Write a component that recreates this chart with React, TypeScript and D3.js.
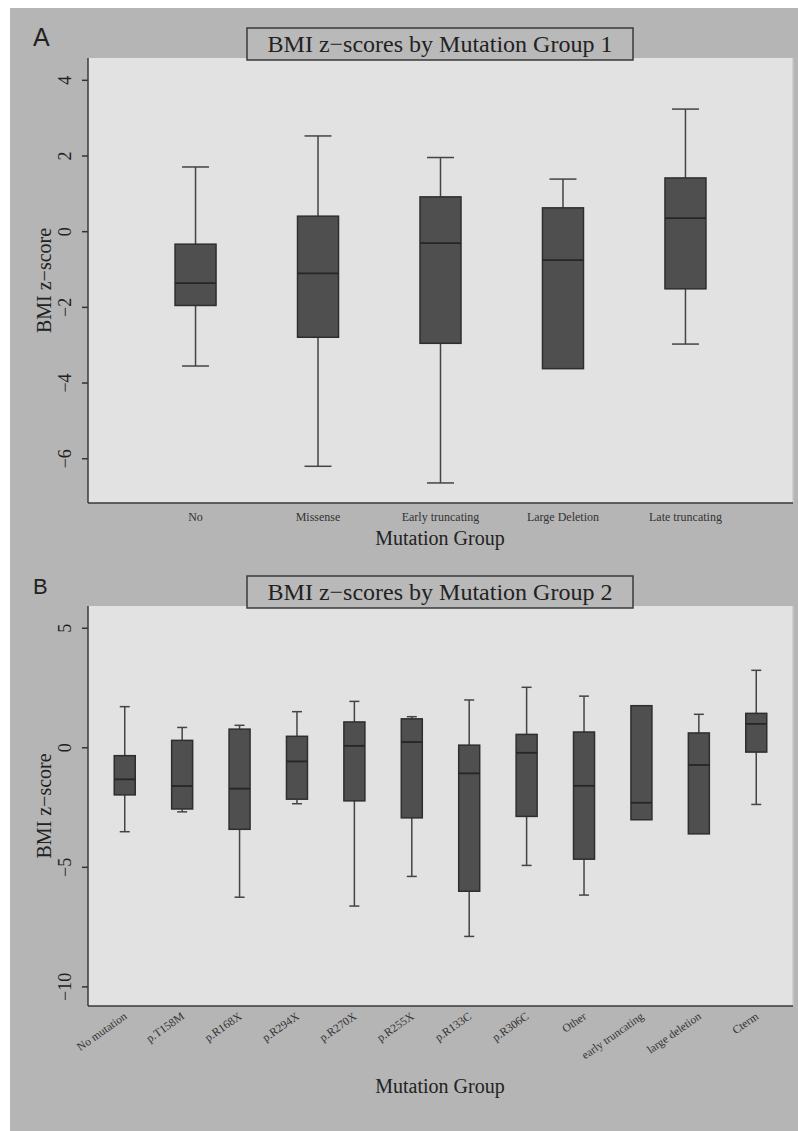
import * as d3 from 'd3';

// panel A
const groupsA = ['No', 'Missense', 'Early truncating', 'Large Deletion', 'Late truncating'];
const lowA = [-3.55, -6.2, -6.64, -3.62, -2.97];
const q1A = [-1.95, -2.79, -2.95, -3.62, -1.51];
const medA = [-1.36, -1.1, -0.3, -0.75, 0.36];
const q3A = [-0.33, 0.41, 0.92, 0.63, 1.42];
const highA = [1.71, 2.53, 1.96, 1.39, 3.24];
const ticksA = [-6, -4, -2, 0, 2, 4];

// panel B
const groupsB = [
  'No mutation', 'p.T158M', 'p.R168X', 'p.R294X', 'p.R270X', 'p.R255X',
  'p.R133C', 'p.R306C', 'Other', 'early truncating', 'large deletion', 'Cterm'
];
const lowB = [-3.51, -2.68, -6.25, -2.34, -6.62, -5.38, -7.89, -4.92, -6.16, -3.01, -3.6, -2.37];
const q1B = [-1.97, -2.56, -3.41, -2.15, -2.22, -2.93, -6.0, -2.87, -4.66, -3.01, -3.6, -0.18];
const medB = [-1.32, -1.6, -1.71, -0.57, 0.08, 0.24, -1.07, -0.21, -1.59, -2.3, -0.72, 1.0];
const q3B = [-0.33, 0.31, 0.78, 0.48, 1.08, 1.21, 0.11, 0.56, 0.66, 1.76, 0.62, 1.44];
const highB = [1.72, 0.85, 0.94, 1.51, 1.94, 1.3, 2.0, 2.53, 2.16, 1.76, 1.4, 3.24];
const ticksB = [-10, -5, 0, 5];

const SERIF = '"Liberation Serif", "Times New Roman", serif';
const SANS = '"Liberation Sans", Arial, sans-serif';

type PanelProps = {
  letter: string;
  letterSize: number;
  title: string;
  groups: string[];
  low: number[];
  q1: number[];
  med: number[];
  q3: number[];
  high: number[];
  ticks: number[];
  domain: [number, number];
  top: number;
  bottom: number;
  padding: number;
  boxW: number;
  capW: number;
  rotate: boolean;
};

function Panel(p: PanelProps) {
  const left = 88;
  const right = 793;
  const x = d3.scalePoint<string>().domain(p.groups).range([left, right]).padding(p.padding);
  const y = d3.scaleLinear().domain(p.domain).range([p.bottom, p.top]);
  const titleY = p.top - 30;

  return (
    <g>
      <text x={33} y={p.top - 12} fontFamily={SANS} fontSize={p.letterSize} fill="#222">{p.letter}</text>
      <rect x={left} y={p.top} width={right - left} height={p.bottom - p.top} fill="#e2e2e2" />
      <line x1={right} x2={right} y1={p.top} y2={p.bottom} stroke="#c8c8c8" strokeWidth={1.5} />
      <rect x={247} y={titleY} width={386} height={32} fill="#b9b9b9" stroke="#3a3a3a" strokeWidth={1.5} />
      <text x={440} y={titleY + 24} textAnchor="middle" fontFamily={SERIF} fontSize={24} fill="#222">{p.title}</text>

      {p.groups.map((g, i) => {
        const c = x(g) as number;
        return (
          <g key={g}>
            {p.high[i] > p.q3[i] ? (
              <>
                <line x1={c} x2={c} y1={y(p.high[i])} y2={y(p.q3[i])} stroke="#444" strokeWidth={1.5} />
                <line x1={c - p.capW / 2} x2={c + p.capW / 2} y1={y(p.high[i])} y2={y(p.high[i])} stroke="#444" strokeWidth={1.5} />
              </>
            ) : null}
            {p.low[i] < p.q1[i] ? (
              <>
                <line x1={c} x2={c} y1={y(p.q1[i])} y2={y(p.low[i])} stroke="#444" strokeWidth={1.5} />
                <line x1={c - p.capW / 2} x2={c + p.capW / 2} y1={y(p.low[i])} y2={y(p.low[i])} stroke="#444" strokeWidth={1.5} />
              </>
            ) : null}
            <rect x={c - p.boxW / 2} y={y(p.q3[i])} width={p.boxW} height={y(p.q1[i]) - y(p.q3[i])} fill="#4f4f4f" stroke="#2e2e2e" strokeWidth={1.5} />
            <line x1={c - p.boxW / 2} x2={c + p.boxW / 2} y1={y(p.med[i])} y2={y(p.med[i])} stroke="#262626" strokeWidth={1.8} />
            {p.rotate ? (
              <text
                transform={`translate(${c + 3},${p.bottom + 12}) rotate(-35)`}
                textAnchor="end"
                fontFamily={SERIF}
                fontSize={11.5}
                fill="#333"
              >{g}</text>
            ) : (
              <text x={c} y={p.bottom + 18} textAnchor="middle" fontFamily={SERIF} fontSize={12} fill="#333">{g}</text>
            )}
          </g>
        );
      })}

      {p.ticks.map((t) => (
        <g key={t}>
          <line x1={left - 6} x2={left} y1={y(t)} y2={y(t)} stroke="#333" strokeWidth={1.5} />
          <text
            transform={`translate(${left - 17},${y(t)}) rotate(-90)`}
            textAnchor="middle"
            fontFamily={SERIF}
            fontSize={18}
            fill="#222"
          >{t < 0 ? `\u2212${Math.abs(t)}` : t}</text>
        </g>
      ))}

      <line x1={left} x2={left} y1={p.top} y2={p.bottom} stroke="#3a3a3a" strokeWidth={1.5} />
      <line x1={left} x2={right} y1={p.bottom} y2={p.bottom} stroke="#3a3a3a" strokeWidth={1.5} />

      <text
        transform={`translate(51,${(p.top + p.bottom) / 2}) rotate(-90)`}
        textAnchor="middle"
        fontFamily={SERIF}
        fontSize={20}
        fill="#222"
      >BMI z−score</text>
      <text
        x={440}
        y={p.rotate ? p.bottom + 87 : p.bottom + 42}
        textAnchor="middle"
        fontFamily={SERIF}
        fontSize={20}
        fill="#222"
      >Mutation Group</text>
    </g>
  );
}

export default function App() {
  return (
    <svg width={798} height={1131} style={{ position: 'absolute', left: 0, top: 0 }}>
      <rect x={0} y={0} width={798} height={1131} fill="#fff" />
      <rect x={10} y={8} width={788} height={1123} fill="#b5b5b5" />
      <Panel
        letter="A"
        letterSize={25}
        title="BMI z−scores by Mutation Group 1"
        groups={groupsA}
        low={lowA}
        q1={q1A}
        med={medA}
        q3={q3A}
        high={highA}
        ticks={ticksA}
        domain={[-7.17, 4.59]}
        top={58}
        bottom={503}
        padding={0.878}
        boxW={41}
        capW={27}
        rotate={false}
      />
      <Panel
        letter="B"
        letterSize={22}
        title="BMI z−scores by Mutation Group 2"
        groups={groupsB}
        low={lowB}
        q1={q1B}
        med={medB}
        q3={q3B}
        high={highB}
        ticks={ticksB}
        domain={[-10.8, 5.93]}
        top={606}
        bottom={1006}
        padding={0.64}
        boxW={21}
        capW={10}
        rotate={true}
      />
    </svg>
  );
}
